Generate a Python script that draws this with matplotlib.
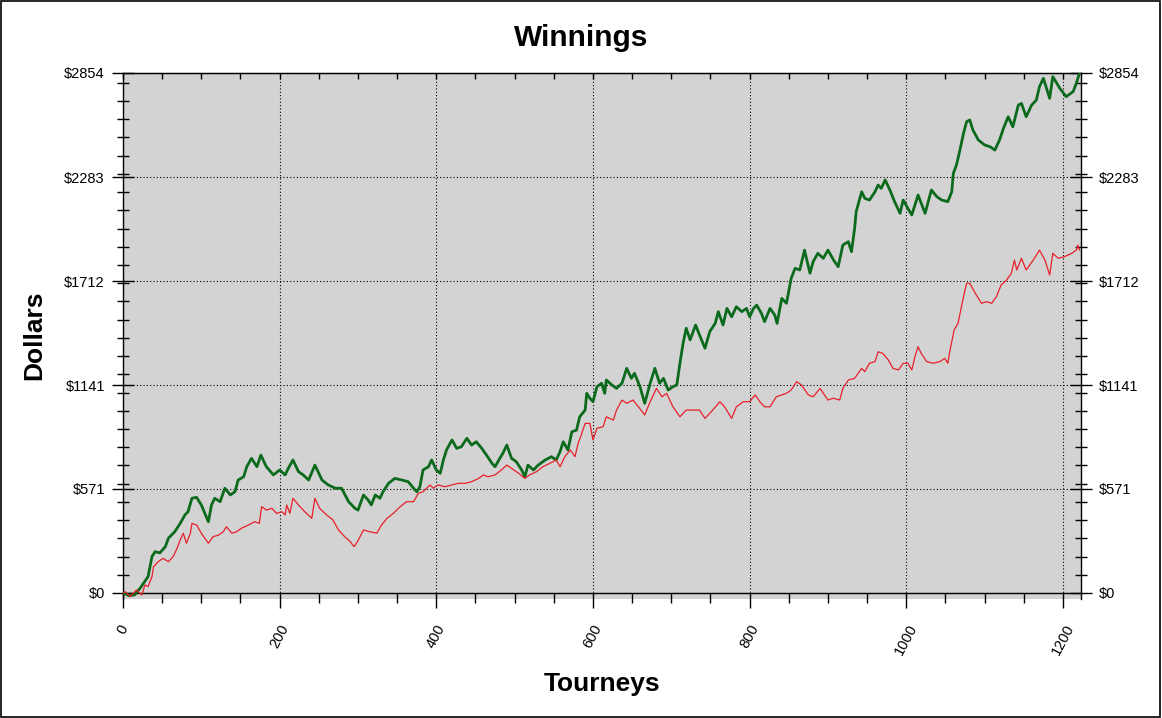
import numpy as np
import matplotlib.pyplot as plt
from matplotlib.patches import Rectangle

plt.rcParams['font.family'] = ['Liberation Sans', 'DejaVu Sans']

# green series (tourney, dollars)
green_t = [0, 8, 15, 22, 32, 37, 41, 47, 54, 58, 66, 73, 79, 83, 88, 94, 100, 109, 113, 117,
           124, 130, 137, 143, 147, 154, 158, 164, 171, 176, 183, 192, 200, 207, 211, 217, 224, 230, 237, 245,
           254, 262, 271, 279, 288, 296, 300, 307, 313, 317, 322, 328, 332, 339, 347, 356, 364, 371, 375, 379,
           383, 390, 394, 400, 405, 409, 413, 420, 426, 432, 439, 445, 451, 458, 464, 471, 475, 481, 485, 490,
           496, 502, 509, 513, 517, 524, 530, 539, 547, 553, 558, 562, 568, 573, 579, 583, 590, 592, 596, 600,
           605, 611, 615, 617, 624, 630, 637, 643, 649, 653, 660, 666, 673, 679, 685, 690, 696, 702, 707, 711,
           715, 719, 724, 731, 736, 743, 749, 756, 760, 766, 771, 777, 783, 790, 796, 800, 805, 809, 815, 819,
           826, 832, 835, 841, 847, 853, 858, 864, 870, 877, 881, 887, 894, 900, 907, 913, 919, 926, 930, 934,
           936, 943, 947, 953, 960, 964, 968, 973, 979, 985, 992, 996, 1002, 1007, 1015, 1024, 1032, 1039, 1045, 1053,
           1058, 1060, 1064, 1068, 1073, 1077, 1081, 1085, 1092, 1100, 1107, 1113, 1119, 1124, 1130, 1136, 1143, 1147, 1153, 1160,
           1166, 1170, 1175, 1183, 1187, 1196, 1204, 1213, 1217, 1221]
green_v = [0, -15, -10, 27, 90, 200, 227, 220, 254, 301, 336, 382, 428, 446, 520, 525, 483, 391, 483, 520,
           501, 575, 538, 556, 620, 638, 693, 739, 693, 757, 693, 648, 675, 648, 684, 730, 666, 648, 620, 702,
           620, 593, 575, 575, 501, 465, 455, 538, 510, 483, 538, 520, 556, 602, 629, 620, 611, 575, 556, 583,
           675, 693, 730, 675, 657, 730, 785, 840, 794, 803, 849, 812, 830, 794, 757, 712, 693, 739, 767, 812,
           739, 721, 675, 638, 702, 675, 702, 730, 748, 730, 776, 830, 785, 885, 894, 967, 1004, 1096, 1069, 1050,
           1132, 1151, 1096, 1169, 1142, 1123, 1151, 1233, 1178, 1206, 1132, 1041, 1151, 1233, 1151, 1178, 1114, 1132, 1142, 1261,
           1370, 1453, 1389, 1471, 1416, 1343, 1434, 1480, 1544, 1471, 1562, 1516, 1571, 1544, 1562, 1516, 1562, 1580, 1535, 1489,
           1562, 1526, 1480, 1617, 1590, 1727, 1782, 1773, 1882, 1755, 1818, 1864, 1837, 1882, 1828, 1791, 1910, 1928, 1873, 2001,
           2093, 2202, 2166, 2157, 2202, 2239, 2221, 2267, 2212, 2148, 2084, 2157, 2111, 2075, 2184, 2084, 2212, 2175, 2157, 2148,
           2202, 2303, 2349, 2422, 2523, 2587, 2596, 2541, 2486, 2459, 2449, 2431, 2486, 2550, 2614, 2559, 2678, 2687, 2614, 2678,
           2706, 2779, 2825, 2715, 2834, 2770, 2724, 2752, 2797, 2852]

# red series
red_t = [0, 3, 9, 17, 24, 28, 32, 37, 39, 45, 51, 58, 64, 69, 73, 77, 81, 86, 88, 94,
         100, 109, 115, 122, 128, 132, 139, 145, 151, 160, 168, 174, 177, 183, 190, 196, 203, 207, 209, 213,
         217, 224, 232, 241, 245, 251, 260, 268, 275, 283, 290, 295, 300, 307, 315, 324, 330, 337, 345, 354,
         362, 371, 377, 383, 392, 396, 402, 411, 420, 428, 437, 445, 454, 460, 466, 475, 483, 490, 496, 505,
         513, 519, 528, 536, 545, 553, 558, 564, 571, 577, 581, 585, 590, 596, 600, 605, 613, 617, 626, 630,
         637, 643, 651, 658, 666, 673, 681, 688, 694, 702, 711, 719, 728, 736, 743, 751, 762, 768, 777, 783,
         792, 800, 807, 813, 819, 826, 834, 841, 847, 853, 860, 866, 875, 881, 890, 894, 900, 907, 915, 919,
         926, 934, 943, 947, 953, 960, 964, 970, 977, 983, 990, 996, 1002, 1007, 1011, 1015, 1019, 1026, 1034, 1043,
         1049, 1053, 1055, 1061, 1066, 1073, 1077, 1081, 1088, 1096, 1102, 1109, 1115, 1121, 1128, 1134, 1138, 1141, 1147, 1153,
         1162, 1170, 1177, 1183, 1187, 1194, 1202, 1211, 1217, 1219, 1221]
red_v = [0, 7, -20, 16, -11, 44, 35, 90, 144, 172, 190, 172, 199, 245, 291, 328, 273, 328, 382, 373,
         328, 273, 309, 318, 336, 364, 328, 336, 355, 373, 391, 382, 474, 455, 465, 437, 446, 428, 483, 437,
         520, 483, 446, 410, 520, 465, 428, 401, 346, 309, 282, 254, 287, 346, 336, 328, 373, 410, 437, 474,
         501, 501, 547, 556, 593, 575, 593, 583, 593, 602, 602, 611, 629, 648, 638, 648, 675, 702, 684, 657,
         629, 648, 666, 693, 712, 730, 693, 748, 785, 748, 821, 867, 931, 931, 840, 904, 913, 967, 949, 1004,
         1059, 1041, 1059, 1022, 977, 1050, 1123, 1077, 1096, 1022, 967, 1004, 1004, 1004, 958, 995, 1050, 1022, 958, 1022,
         1050, 1050, 1087, 1050, 1022, 1022, 1077, 1087, 1096, 1114, 1160, 1142, 1087, 1077, 1123, 1096, 1059, 1069, 1059, 1123,
         1169, 1178, 1233, 1215, 1261, 1270, 1324, 1315, 1279, 1233, 1224, 1261, 1261, 1224, 1297, 1352, 1315, 1270, 1261, 1270,
         1288, 1261, 1315, 1443, 1480, 1626, 1700, 1700, 1645, 1590, 1599, 1590, 1626, 1690, 1718, 1754, 1827, 1773, 1837, 1773,
         1827, 1882, 1827, 1745, 1864, 1837, 1846, 1864, 1882, 1910, 1882]

y_ticks = [0, 571, 1141, 1712, 2283, 2854]
y_labels = ['$0', '$571', '$1141', '$1712', '$2283', '$2854']
x_ticks = [0, 200, 400, 600, 800, 1000, 1200]

fig = plt.figure(figsize=(11.62, 7.18), dpi=100)
ax = fig.add_axes([123 / 1162, 1 - 599 / 718, (1081 - 123) / 1162, (599 - 73) / 718])
ax.set_facecolor('#d3d3d3')

ax.plot(green_t, green_v, color='#0b6a1c', lw=2.0, zorder=3)
ax.plot(red_t, red_v, color='#e8202a', lw=0.9, zorder=4)

ax.set_xlim(0, 1223)
ax.set_ylim(-33, 2854)

ax.spines['bottom'].set_position(('data', 0))
for s in ax.spines.values():
    s.set_linewidth(1.0)

ax.set_xticks(x_ticks)
ax.set_xticklabels([str(t) for t in x_ticks], rotation=62, fontsize=10.5)
ax.set_xticks(np.arange(50, 1223, 50), minor=True)
ax.tick_params(axis='x', which='major', direction='out', length=11, width=1, pad=10)
ax.tick_params(axis='x', which='minor', direction='out', length=7, width=1)

ax.set_yticks(y_ticks)
ax.set_yticklabels(y_labels, fontsize=10.5)
ax.set_yticks(np.arange(100, 2854, 100), minor=True)
ax.tick_params(axis='y', which='major', direction='inout', length=16, width=1, pad=5,
               left=True, right=True, labelleft=True, labelright=True)
ax.tick_params(axis='y', which='minor', direction='inout', length=8, width=1,
               left=True, right=True)

top = ax.secondary_xaxis('top')
top.set_xticks(np.arange(0, 1223, 50))
top.tick_params(direction='in', length=4, width=1, labeltop=False)

ax.grid(True, which='major', color='black', linestyle=(0, (1, 2)), linewidth=0.8)
ax.set_axisbelow(True)

fig.text(0.5, 1 - 38 / 718, 'Winnings', ha='center', va='center', fontsize=21.5, fontweight='bold')
fig.text(602 / 1162, 1 - 684 / 718, 'Tourneys', ha='center', va='center', fontsize=19, fontweight='bold')
fig.text(34 / 1162, 1 - 335 / 718, 'Dollars', ha='center', va='center', rotation=90,
         fontsize=19, fontweight='bold')

fig.patches.append(Rectangle((0.001, 0.002), 0.997, 0.996, transform=fig.transFigure,
                             fill=False, edgecolor='black', lw=1.2))

fig.savefig('out.png', dpi=100)
